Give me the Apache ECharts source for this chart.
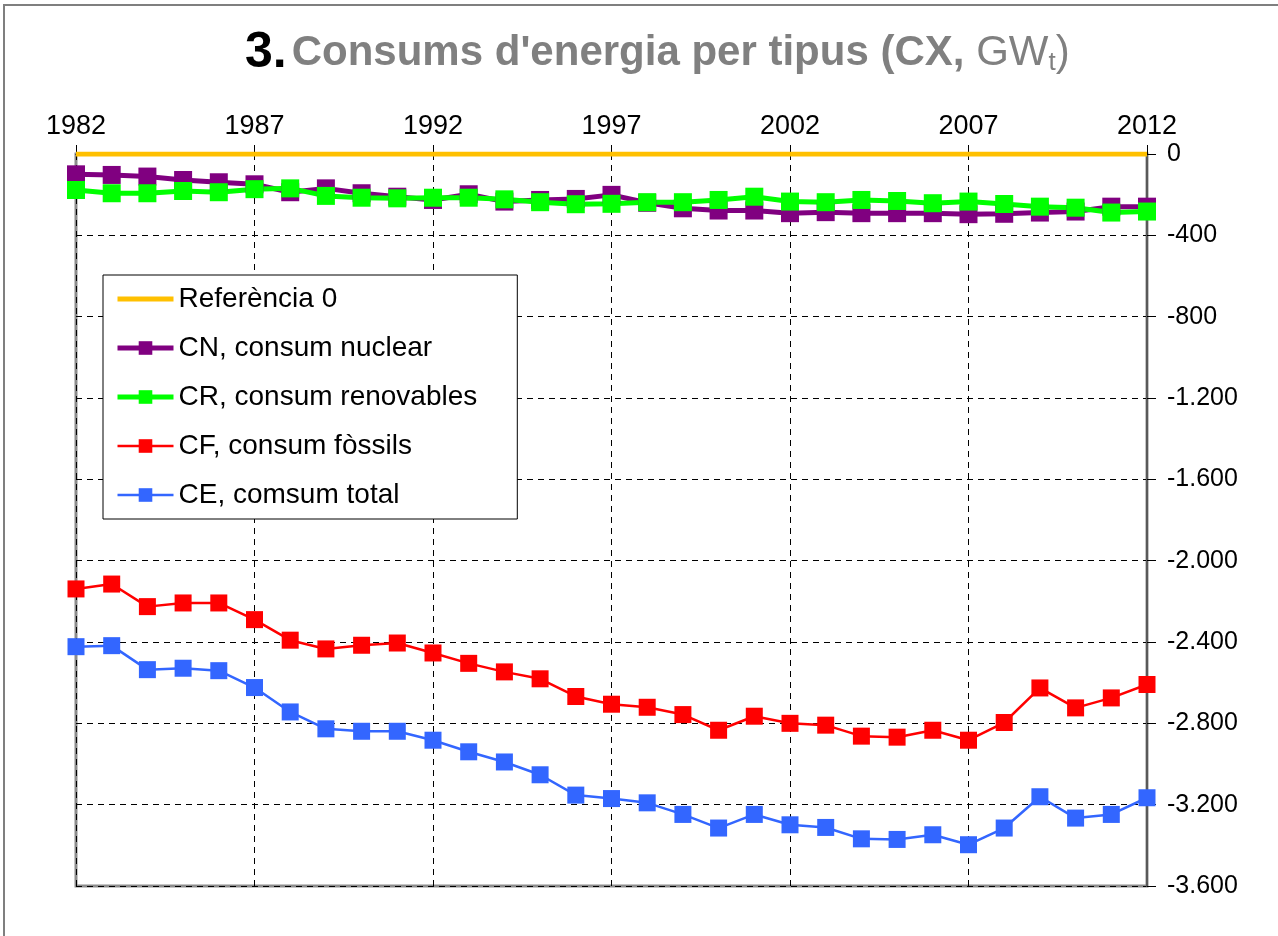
<!DOCTYPE html>
<html>
<head>
<meta charset="utf-8">
<script src="https://cdn.jsdelivr.net/npm/echarts@6/dist/echarts.min.js"></script>
<style>
  html, body { margin: 0; padding: 0; background: #fff; }
  #main { width: 1278px; height: 936px; }
</style>
</head>
<body>
<div id="main"></div>
<script>
// anys 1982..2012
const years = ['1982','1983','1984','1985','1986','1987','1988','1989','1990','1991','1992',
  '1993','1994','1995','1996','1997','1998','1999','2000','2001','2002',
  '2003','2004','2005','2006','2007','2008','2009','2010','2011','2012'];

const ref0 = [0,0,0,0,0,0,0,0,0,0,0,0,0,0,0,0,0,0,0,0,0,0,0,0,0,0,0,0,0,0,0];

// CN, consum nuclear
const cn = [-100,-103,-111,-128,-139,-149,-188,-169,-193,-210,-226,
  -198,-234,-226,-221,-201,-240,-267,-278,-278,-291,
  -286,-291,-291,-291,-296,-294,-288,-283,-259,-259];

// CR, consum renovables
const cr = [-177,-193,-193,-182,-188,-173,-169,-206,-215,-218,-215,
  -215,-223,-237,-247,-245,-237,-237,-226,-210,-234,
  -237,-226,-231,-242,-234,-246,-259,-264,-288,-283];

// CF, consum fossils
const cf = [-2139,-2115,-2226,-2208,-2208,-2290,-2391,-2434,-2416,-2405,-2454,
  -2505,-2547,-2581,-2668,-2706,-2721,-2757,-2834,-2765,-2800,
  -2809,-2863,-2868,-2834,-2883,-2796,-2626,-2724,-2675,-2609];

// CE, consum total
const ce = [-2423,-2418,-2536,-2529,-2541,-2624,-2744,-2827,-2839,-2839,-2883,
  -2940,-2990,-3053,-3153,-3170,-3191,-3248,-3315,-3248,-3299,
  -3312,-3368,-3371,-3348,-3397,-3315,-3161,-3266,-3248,-3166];

const fmt = function (v) {
  if (v === 0) return '0';
  const s = String(Math.abs(v)).replace(/\B(?=(\d{3})+(?!\d))/g, '.');
  return (v < 0 ? '-' : '') + s;
};

const chart = echarts.init(document.getElementById('main'));
const FONT = '"Liberation Sans", Arial, sans-serif';

const mkLine = function (name, data, color, lw, sym) {
  return {
    name: name, type: 'line', data: data,
    symbol: sym ? 'rect' : 'none', symbolSize: sym || 0,
    lineStyle: { color: color, width: lw },
    itemStyle: { color: color },
    emphasis: { disabled: true },
    animation: false
  };
};

chart.setOption({
  backgroundColor: '#fff',
  textStyle: { fontFamily: FONT },
  title: {
    left: 240, top: 23,
    text: '{a|3.} {b|Consums d\'energia per tipus (CX, }{c|GW}{d|t}{c|)}',
    textStyle: {
      rich: {
        a: { fontSize: 50, fontWeight: 'bold', color: '#000', fontFamily: FONT },
        b: { fontSize: 42, fontWeight: 'bold', color: '#808080', fontFamily: FONT },
        c: { fontSize: 42, fontWeight: 'normal', color: '#808080', fontFamily: FONT },
        d: { fontSize: 26, fontWeight: 'normal', color: '#808080', fontFamily: FONT, padding: [20, 0, 0, 0] }
      }
    }
  },
  graphic: [{
    type: 'rect', silent: true, z: -1,
    shape: { x: 4, y: 5, width: 1400, height: 1100 },
    style: { fill: null, stroke: '#7f7f7f', lineWidth: 2 }
  }],
  legend: {
    orient: 'vertical', left: 103, top: 275,
    padding: [10, 40, 10, 12],
    backgroundColor: '#fff', borderColor: '#000', borderWidth: 1,
    itemWidth: 56, itemHeight: 17, itemGap: 21,
    textStyle: { fontSize: 28, color: '#000', fontFamily: FONT, lineHeight: 28 },
    data: [
      { name: 'Referència 0', itemStyle: { opacity: 0 }, lineStyle: { width: 5 } },
      { name: 'CN, consum nuclear', lineStyle: { width: 5 } },
      { name: 'CR, consum renovables', lineStyle: { width: 5 } },
      { name: 'CF, consum fòssils', lineStyle: { width: 2.5 } },
      { name: 'CE, comsum total', lineStyle: { width: 2.5 } }
    ]
  },
  grid: {
    left: 76, right: 131, top: 154, bottom: 50,
    show: true, borderColor: '#8c8c8c', borderWidth: 3
  },
  xAxis: {
    type: 'category', position: 'top', data: years, boundaryGap: false,
    axisLine: { show: true, lineStyle: { color: '#000', width: 1 } },
    axisTick: { show: true, inside: false, length: 9, interval: 4, lineStyle: { color: '#000' } },
    axisLabel: { interval: 4, fontSize: 27, color: '#000', margin: 14, fontFamily: FONT },
    splitLine: { show: true, interval: 4, lineStyle: { color: '#000', type: [6, 5], width: 1 } }
  },
  yAxis: {
    type: 'value', position: 'right', min: -3600, max: 0, interval: 400,
    axisLine: { show: true, lineStyle: { color: '#595959', width: 2 } },
    axisTick: { show: true, inside: false, length: 9, lineStyle: { color: '#000' } },
    axisLabel: { fontSize: 25, color: '#000', margin: 20, formatter: fmt, fontFamily: FONT },
    splitLine: { show: true, lineStyle: { color: '#000', type: [6, 5], width: 1 } }
  },
  series: [
    mkLine('CN, consum nuclear', cn, '#800080', 5, 18),
    mkLine('CR, consum renovables', cr, '#00ff00', 5, 18),
    mkLine('CF, consum fòssils', cf, '#ff0000', 2.5, 17),
    mkLine('CE, comsum total', ce, '#3366ff', 2.5, 17),
    Object.assign(mkLine('Referència 0', ref0, '#ffc000', 5, 0), { z: 5 })
  ]
});
</script>
</body>
</html>
